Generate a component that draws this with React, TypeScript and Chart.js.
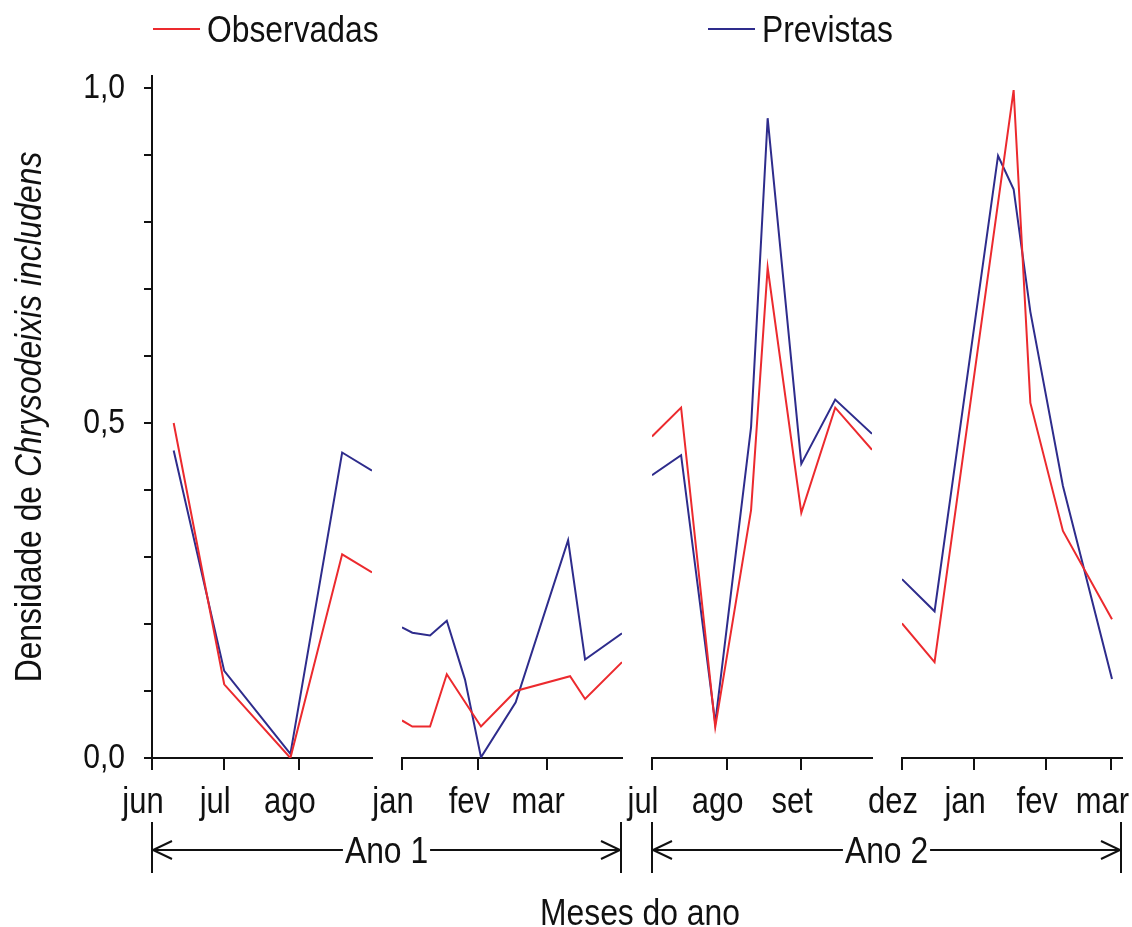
import React, { useEffect, useRef } from 'react';
import { Chart, registerables } from 'chart.js';

Chart.register(...registerables);

// ---------- data ----------
const SERIES_NAMES = ['Observadas', 'Previstas'];
const SERIES_COLORS = ['#ec2a2e', '#2e2c8c'];

const Y_TICKS = [0, 0.1, 0.2, 0.3, 0.4, 0.5, 0.6, 0.7, 0.8, 0.9, 1.0];
const Y_TICK_LABELS = ['0,0', '', '', '', '', '0,5', '', '', '', '', '1,0'];

const Y_TITLE_NORMAL = 'Densidade de ';
const Y_TITLE_ITALIC = 'Chrysodeixis includens';
const X_TITLE = 'Meses do ano';
const YEAR_LABELS = ['Ano 1', 'Ano 2'];

// Panel 1 (Ano 1): jun – ago  (x in days from the first tick)
const P1_SPAN = 91.4;
const P1_TICK_DAYS = [0, 30, 61];
const P1_TICK_LABELS = ['jun', 'jul', 'ago'];
const P1_OBS_DAYS = [9, 30, 57.5, 79, 91.4];
const P1_OBS = [0.5, 0.11, 0.0, 0.304, 0.277];
const P1_PREV_DAYS = [9, 30, 57.5, 79, 91.4];
const P1_PREV = [0.459, 0.13, 0.006, 0.456, 0.429];

// Panel 2 (Ano 1): jan – mar
const P2_SPAN = 89.4;
const P2_TICK_DAYS = [0, 31, 59];
const P2_TICK_LABELS = ['jan', 'fev', 'mar'];
const P2_OBS_DAYS = [0, 4.2, 11.4, 18.2, 32.1, 46.2, 68.3, 74.4, 89.4];
const P2_OBS = [0.056, 0.047, 0.047, 0.125, 0.047, 0.1, 0.122, 0.088, 0.143];
const P2_PREV_DAYS = [0, 4.2, 11.4, 18.2, 25.6, 32.1, 46.2, 67.5, 74.4, 89.4];
const P2_PREV = [0.195, 0.187, 0.183, 0.205, 0.117, 0.001, 0.083, 0.325, 0.147, 0.186];

// Panel 3 (Ano 2): jul – set
const P3_SPAN = 91.5;
const P3_TICK_DAYS = [0, 31, 62];
const P3_TICK_LABELS = ['jul', 'ago', 'set'];
const P3_OBS_DAYS = [0, 12.1, 26.3, 41.2, 48.1, 62.1, 76.2, 91.5];
const P3_OBS = [0.48, 0.523, 0.046, 0.37, 0.732, 0.366, 0.523, 0.46];
const P3_PREV_DAYS = [0, 12.1, 26.3, 41.2, 48.1, 62.1, 76.2, 91.5];
const P3_PREV = [0.422, 0.452, 0.052, 0.494, 0.955, 0.439, 0.535, 0.484];

// Panel 4 (Ano 2): dez – mar
const P4_SPAN = 94.6;
const P4_TICK_DAYS = [0, 31, 62, 90];
const P4_TICK_LABELS = ['dez', 'jan', 'fev', 'mar'];
const P4_OBS_DAYS = [0, 14, 48, 55.2, 69.2, 90.3];
const P4_OBS = [0.201, 0.143, 0.997, 0.53, 0.339, 0.207];
const P4_PREV_DAYS = [0, 14, 41.3, 48, 55.2, 69.2, 90.3];
const P4_PREV = [0.267, 0.219, 0.899, 0.849, 0.666, 0.406, 0.118];

// ---------- style ----------
const FAMILY = '"Liberation Sans", Arial, sans-serif';
const SX = 0.86; // horizontal condensation of all text
const INK = '#111111';
const W = 1132;
const H = 927;

const PANELS = [
  { span: P1_SPAN, tickDays: P1_TICK_DAYS, tickLabels: P1_TICK_LABELS, obsDays: P1_OBS_DAYS, obs: P1_OBS, prevDays: P1_PREV_DAYS, prev: P1_PREV },
  { span: P2_SPAN, tickDays: P2_TICK_DAYS, tickLabels: P2_TICK_LABELS, obsDays: P2_OBS_DAYS, obs: P2_OBS, prevDays: P2_PREV_DAYS, prev: P2_PREV },
  { span: P3_SPAN, tickDays: P3_TICK_DAYS, tickLabels: P3_TICK_LABELS, obsDays: P3_OBS_DAYS, obs: P3_OBS, prevDays: P3_PREV_DAYS, prev: P3_PREV },
  { span: P4_SPAN, tickDays: P4_TICK_DAYS, tickLabels: P4_TICK_LABELS, obsDays: P4_OBS_DAYS, obs: P4_OBS, prevDays: P4_PREV_DAYS, prev: P4_PREV },
];

const fixX = (s: any) => {
  s.height = 169;
  s.paddingLeft = 0;
  s.paddingRight = 0;
  s.paddingTop = 0;
  s.paddingBottom = 0;
};

function drawText(
  ctx: CanvasRenderingContext2D,
  text: string,
  x: number,
  y: number,
  align: CanvasTextAlign,
  font: string,
  baseline: CanvasTextBaseline = 'alphabetic'
) {
  ctx.save();
  ctx.translate(x, y);
  ctx.scale(SX, 1);
  ctx.font = font;
  ctx.textAlign = align;
  ctx.textBaseline = baseline;
  ctx.fillStyle = INK;
  ctx.fillText(text, 0, 0);
  ctx.restore();
}

const decorPlugin = {
  id: 'decor',
  afterDraw(chart: any) {
    const ctx = chart.ctx as CanvasRenderingContext2D;
    const area = chart.chartArea;
    const F = `37px ${FAMILY}`;
    ctx.save();
    ctx.strokeStyle = INK;
    ctx.lineWidth = 2;

    // tick labels (x)
    PANELS.forEach((p, i) => {
      const sc = chart.scales['x' + (i + 1)];
      p.tickDays.forEach((d, j) => {
        drawText(ctx, p.tickLabels[j], sc.getPixelForValue(d) - 9, 813, 'center', `36px ${FAMILY}`);
      });
    });
    // tick labels (y)
    const ys = chart.scales.y;
    Y_TICKS.forEach((v, j) => {
      if (Y_TICK_LABELS[j]) {
        drawText(ctx, Y_TICK_LABELS[j], ys.left + ys.width - 27, ys.getPixelForValue(v), 'right', `35px ${FAMILY}`, 'middle');
      }
    });

    // legend
    const legendX = [area.left + 1, area.left + 556];
    SERIES_NAMES.forEach((name, i) => {
      const x = legendX[i];
      ctx.strokeStyle = SERIES_COLORS[i];
      ctx.beginPath();
      ctx.moveTo(x, 29);
      ctx.lineTo(x + 47, 29);
      ctx.stroke();
      drawText(ctx, name, x + 54, 42, 'left', F);
    });

    // y title (rotated, partly italic)
    ctx.save();
    ctx.translate(41, (area.top + area.bottom) / 2);
    ctx.rotate(-Math.PI / 2);
    ctx.scale(SX, 1);
    ctx.fillStyle = INK;
    ctx.textBaseline = 'alphabetic';
    ctx.textAlign = 'left';
    ctx.font = F;
    const w1 = ctx.measureText(Y_TITLE_NORMAL).width;
    ctx.font = `italic 37px ${FAMILY}`;
    const w2 = ctx.measureText(Y_TITLE_ITALIC).width;
    const start = -(w1 + w2) / 2;
    ctx.font = F;
    ctx.fillText(Y_TITLE_NORMAL, start, 0);
    ctx.font = `italic 37px ${FAMILY}`;
    ctx.fillText(Y_TITLE_ITALIC, start + w1, 0);
    ctx.restore();

    // year spans with arrows
    const spans = [
      [chart.scales.x1.left, chart.scales.x2.right - 1],
      [chart.scales.x3.left, chart.scales.x4.right - 1],
    ];
    ctx.strokeStyle = INK;
    ctx.lineWidth = 2;
    spans.forEach(([x0, x1], i) => {
      const y = 850;
      ctx.beginPath();
      ctx.moveTo(x0, 822);
      ctx.lineTo(x0, 873);
      ctx.moveTo(x1, 822);
      ctx.lineTo(x1, 873);
      ctx.stroke();
      const label = YEAR_LABELS[i];
      ctx.font = F;
      const tw = ctx.measureText(label).width * SX;
      const cx = (x0 + x1) / 2;
      ctx.beginPath();
      ctx.moveTo(x0, y);
      ctx.lineTo(cx - tw / 2 - 2, y);
      ctx.moveTo(cx + tw / 2 + 2, y);
      ctx.lineTo(x1, y);
      ctx.moveTo(x0 + 20, y - 9);
      ctx.lineTo(x0 + 1, y);
      ctx.lineTo(x0 + 20, y + 9);
      ctx.moveTo(x1 - 20, y - 9);
      ctx.lineTo(x1 - 1, y);
      ctx.lineTo(x1 - 20, y + 9);
      ctx.stroke();
      drawText(ctx, label, cx, 863, 'center', F);
    });

    // x title
    drawText(ctx, X_TITLE, (area.left + area.right) / 2 + 3, 925, 'center', F);

    ctx.restore();
  },
};

export default function App() {
  const ref = useRef<HTMLCanvasElement>(null);

  useEffect(() => {
    document.body.style.margin = '0';
    const canvas = ref.current;
    if (!canvas) return;

    const datasets: any[] = [];
    const scales: any = {};
    PANELS.forEach((p, i) => {
      const xid = 'x' + (i + 1);
      datasets.push({
        label: SERIES_NAMES[0],
        xAxisID: xid,
        yAxisID: 'y',
        data: p.obsDays.map((d, j) => ({ x: d, y: p.obs[j] })),
        borderColor: SERIES_COLORS[0],
        backgroundColor: SERIES_COLORS[0],
        borderWidth: 2,
        pointRadius: 0,
        tension: 0,
        fill: false,
      });
      datasets.push({
        label: SERIES_NAMES[1],
        xAxisID: xid,
        yAxisID: 'y',
        data: p.prevDays.map((d, j) => ({ x: d, y: p.prev[j] })),
        borderColor: SERIES_COLORS[1],
        backgroundColor: SERIES_COLORS[1],
        borderWidth: 2,
        pointRadius: 0,
        tension: 0,
        fill: false,
      });
      scales[xid] = {
        type: 'linear',
        position: 'bottom',
        stack: 'panels',
        stackWeight: 220,
        min: 0,
        max: p.span,
        afterBuildTicks: (ax: any) => {
          ax.ticks = p.tickDays.map((v) => ({ value: v }));
        },
        ticks: {
          autoSkip: false,
          maxRotation: 0,
          minRotation: 0,
          padding: 13,
          color: INK,
          font: { family: FAMILY, size: 36 },
          callback: () => '',
        },
        grid: {
          drawOnChartArea: false,
          drawTicks: true,
          tickLength: 12,
          color: INK,
          lineWidth: 2,
        },
        border: { display: true, color: INK, width: 2 },
        afterFit: fixX,
      };
      if (i < PANELS.length - 1) {
        scales['gap' + (i + 1)] = {
          type: 'linear',
          position: 'bottom',
          stack: 'panels',
          stackWeight: 30,
          min: 0,
          max: 1,
          ticks: { display: false },
          grid: { display: false },
          border: { display: false },
          afterFit: fixX,
        };
      }
    });
    scales.y = {
      type: 'linear',
      position: 'left',
      min: 0,
      max: 1.018,
      afterBuildTicks: (ax: any) => {
        ax.ticks = Y_TICKS.map((v) => ({ value: v }));
      },
      ticks: {
        autoSkip: false,
        padding: 19,
        color: INK,
        font: { family: FAMILY, size: 35 },
        callback: () => '',
      },
      grid: {
        drawOnChartArea: false,
        drawTicks: true,
        tickLength: 8,
        color: INK,
        lineWidth: 2,
      },
      border: { display: true, color: INK, width: 2 },
      afterFit: (s: any) => {
        s.width = 152;
        s.paddingLeft = 0;
        s.paddingRight = 0;
        s.paddingTop = 0;
        s.paddingBottom = 0;
      },
    };

    const chart = new Chart(canvas, {
      type: 'line',
      data: { datasets },
      options: {
        animation: false,
        responsive: false,
        maintainAspectRatio: false,
        devicePixelRatio: 1,
        layout: { padding: { top: 76, right: 10, bottom: 0, left: 0 } },
        plugins: {
          legend: { display: false },
          tooltip: { enabled: false },
          title: { display: false },
        },
        scales,
      },
      plugins: [decorPlugin],
    } as any);

    return () => chart.destroy();
  }, []);

  return (
    <div style={{ width: W, height: H, background: '#ffffff' }}>
      <canvas ref={ref} width={W} height={H} style={{ display: 'block' }} />
    </div>
  );
}
